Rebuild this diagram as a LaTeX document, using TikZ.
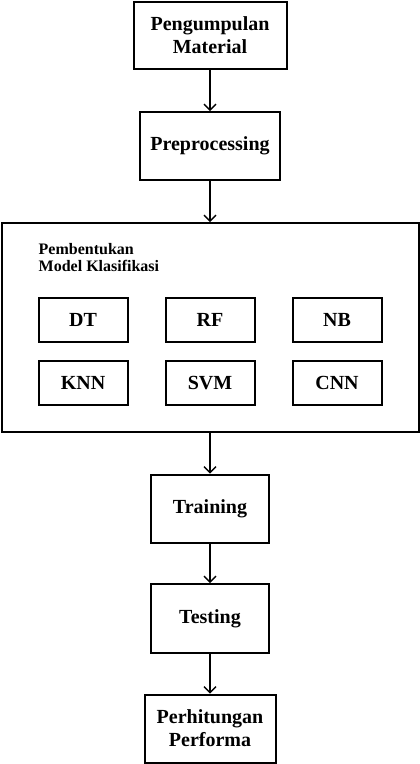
\documentclass[tikz,border=0pt]{standalone}
\usepackage{fontspec}
\setmainfont{Liberation Serif}
\usetikzlibrary{arrows.meta}
\begin{document}
\begin{tikzpicture}[x=1pt,y=-1pt,
  box/.style={draw,line width=2pt,inner sep=0pt,font=\fontsize{20}{23}\selectfont\bfseries,align=center},
  flow/.style={line width=1.4pt,-{Straight Barb[length=6pt,width=12pt,line width=1.4pt]}}]
\useasboundingbox (0,0) rectangle (420,764);
\node[box,minimum width=153,minimum height=67] (pm) at (210,35) {Pengumpulan\\Material};
\node[box,minimum width=140,minimum height=68] (pp) at (210,146) {Preprocessing};
\node[draw,line width=2pt,minimum width=417,minimum height=209,inner sep=0pt] (mk) at (210,327.5) {};
\node[anchor=north west,inner sep=0pt,align=left,font=\fontsize{16}{16.7}\selectfont\bfseries] (lbl) at (38.5,243) {Pembentukan\\Model Klasifikasi};
\node[box,minimum width=89,minimum height=44] (dt) at (83,320) {DT};
\node[box,minimum width=89,minimum height=44] (rf) at (210,320) {RF};
\node[box,minimum width=89,minimum height=44] (nb) at (337,320) {NB};
\node[box,minimum width=89,minimum height=44] (knn) at (83,383) {KNN};
\node[box,minimum width=89,minimum height=44] (svm) at (210,383) {SVM};
\node[box,minimum width=89,minimum height=44] (cnn) at (337,383) {CNN};
\node[box,minimum width=118,minimum height=68] (tr) at (210,508.5) {Training};
\node[box,minimum width=118,minimum height=69] (ts) at (210,618.5) {Testing};
\node[box,minimum width=131,minimum height=68] (pf) at (210,728.5) {Perhitungan\\Performa};
\draw[flow] (pm.south) -- (pp.north);
\draw[flow] (pp.south) -- (pp.south |- mk.north);
\draw[flow] (mk.south -| tr.north) -- (tr.north);
\draw[flow] (tr.south) -- (ts.north);
\draw[flow] (ts.south) -- (pf.north);
\end{tikzpicture}
\end{document}
